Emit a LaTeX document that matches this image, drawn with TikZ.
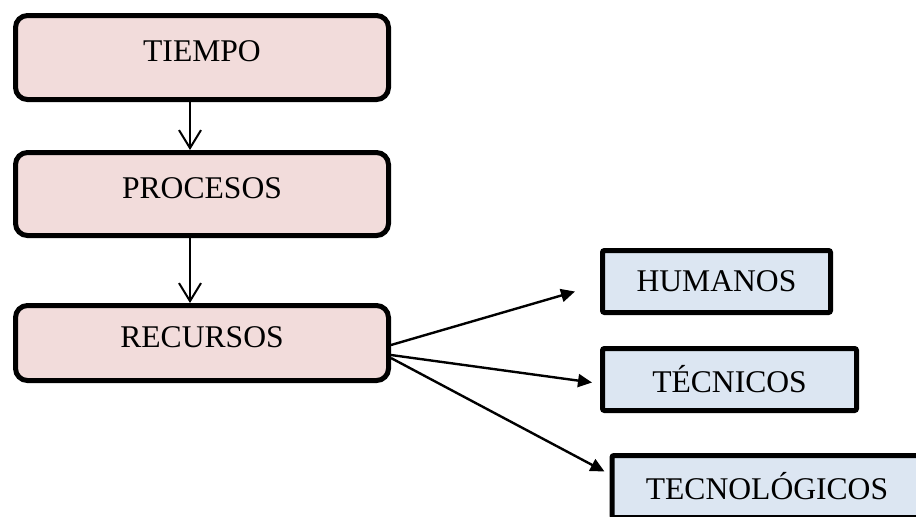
\documentclass[tikz,border=0pt]{standalone}
\usepackage{fontspec}
\setmainfont{Liberation Serif}
\usetikzlibrary{positioning}
\usetikzlibrary{shapes, arrows.meta}
\definecolor{rosa}{HTML}{F2DCDB}
\definecolor{azul}{HTML}{DCE6F2}

\begin{document}
\begin{tikzpicture}[x=0.5pt, y=-0.5pt, auto, node distance=24pt]
    \tikzstyle{rblock}=[draw, shape=rectangle, rounded corners=6pt, line width=2.5pt,
    fill=rosa, minimum width=186.5pt, text depth=6pt, align=center,
    font=\fontsize{15.8}{19}\selectfont];
    \tikzstyle{block}=[draw, shape=rectangle, rounded corners=1pt, line width=2.5pt,
    fill=azul, minimum height=31pt, align=center,
    font=\fontsize{15.8}{19}\selectfont];
    \tikzstyle{line}=[line width=1pt, -{Straight Barb[length=9pt, width=11pt, line width=1pt]}];
    \tikzstyle{fline}=[line width=1.2pt, -{Triangle[length=7pt, width=6.5pt]}];
    \useasboundingbox (0,0) rectangle (916,516);
    \node [rblock, minimum height=42pt] (a) at (202,57.5) {TIEMPO};
    \node [rblock, minimum height=41.5pt, below=of a] (b) {PROCESOS};
    \node [rblock, minimum height=37.5pt, below=32.5pt of b] (c) {RECURSOS};
    \node [block, minimum width=114pt] (h) at (716.5,281.5) {HUMANOS};
    \node [block, minimum width=127pt] (t) at (729.5,379.5) {TÉCNICOS};
    \node [block, minimum width=155pt] (g) at (767,486.5) {TECNOLÓGICOS};
    % free ends of the arrows on the right
    \coordinate (hIn) at ([xshift=-12.5pt, yshift=-5pt]h.west);
    \coordinate (tIn) at ([xshift=-4pt, yshift=-1.5pt]t.west);
    \coordinate (gIn) at ([xshift=-2.5pt, yshift=7.5pt]g.west);
    \draw[line] ([xshift=-6pt]a.south) -- ([xshift=-6pt]b.north);
    \draw[line] ([xshift=-6pt]b.south) -- ([xshift=-6pt]c.north);
    \draw[fline] ([yshift=-1pt]c.east) -- (hIn);
    \draw[fline] ([yshift=-6pt]c.east) -- (tIn);
    \draw[fline] ([yshift=-7.5pt]c.east) -- (gIn);
\end{tikzpicture}
\end{document}
